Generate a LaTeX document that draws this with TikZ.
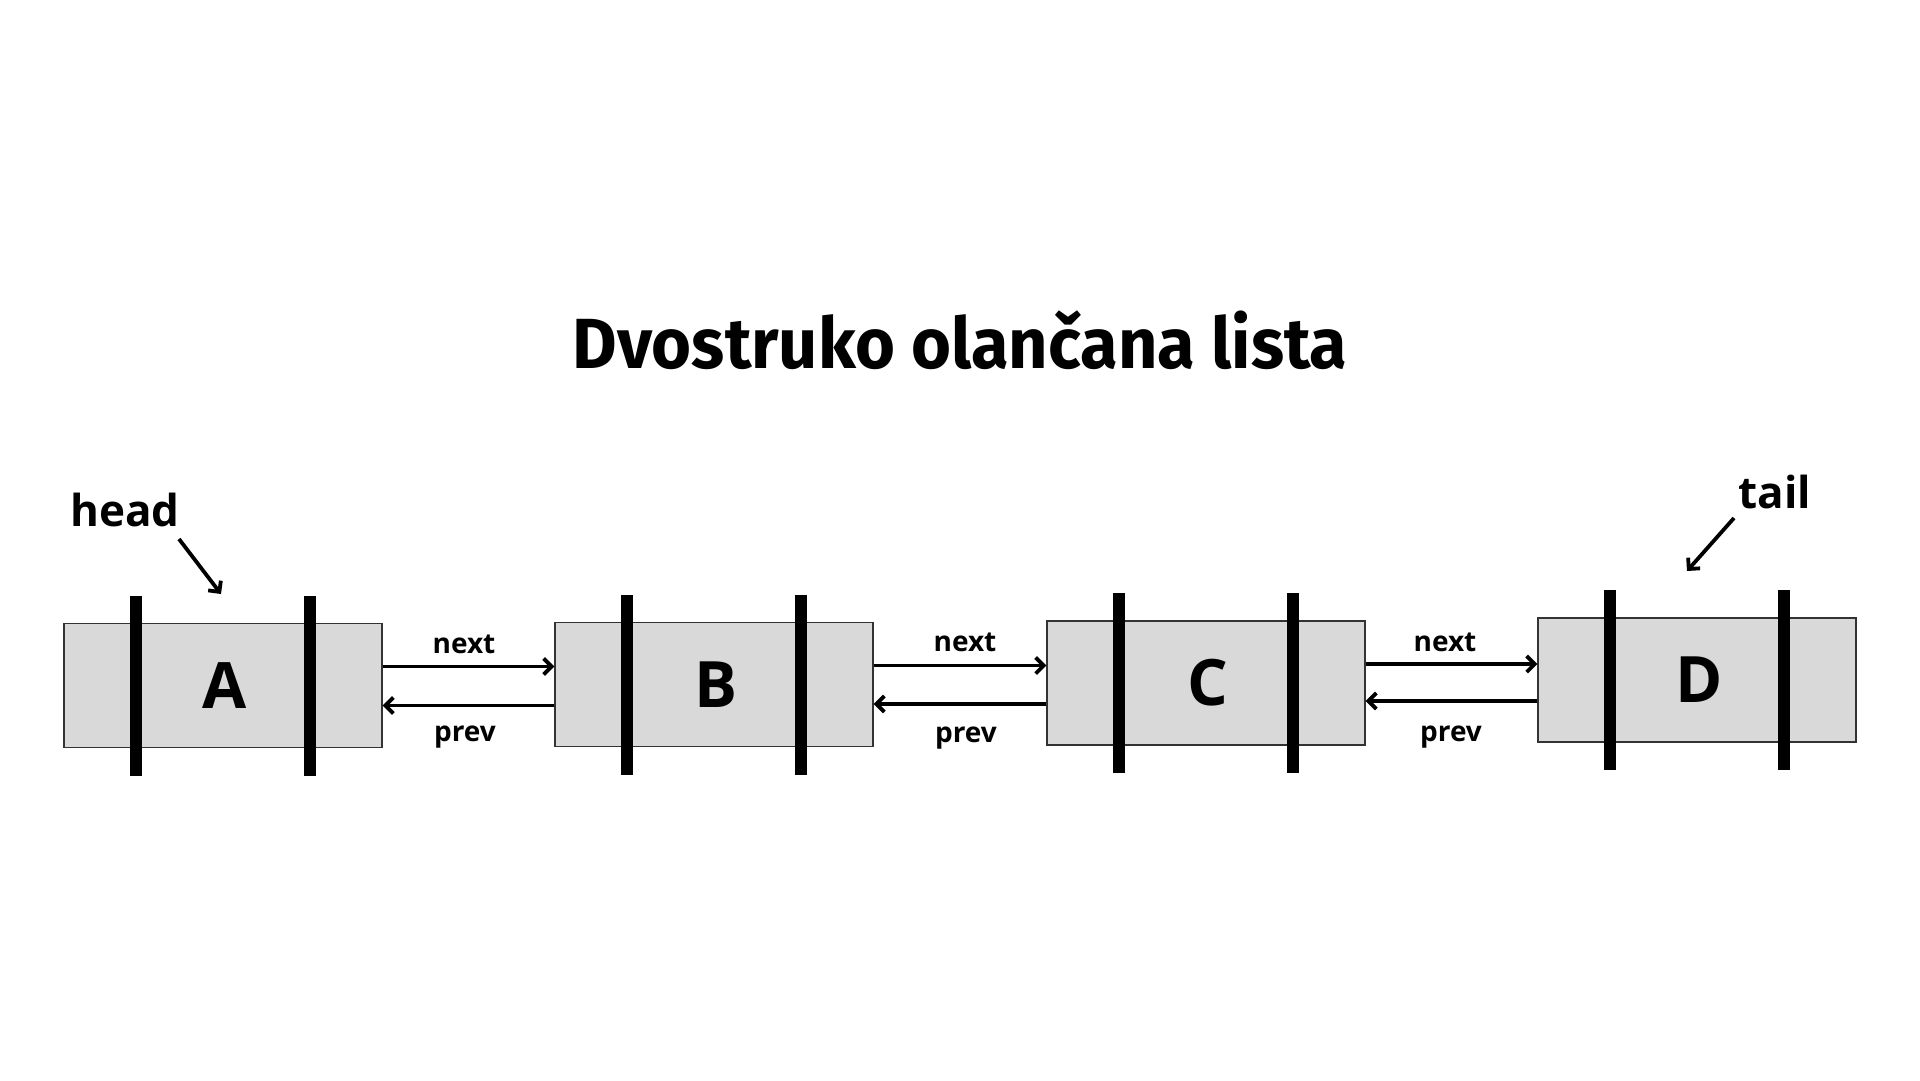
\documentclass[tikz,border=0pt]{standalone}
\usepackage{fontspec}
\setmainfont{Open Sans}
\newfontfamily\titlefont{Fira Sans}
\usetikzlibrary{arrows.meta}
\definecolor{cellgray}{HTML}{D9D9D9}
\begin{document}
\begin{tikzpicture}[x=1pt,y=-1pt,
  cell/.style={draw=black!80, line width=1.3pt, fill=cellgray, minimum width=318pt, minimum height=124pt, inner sep=0pt, font=\bfseries\fontsize{64}{64}\selectfont},
  bar/.style={fill=black, draw=none, minimum width=12pt, minimum height=180pt, inner sep=0pt},
  link/.style={line width=3.8pt, -{Straight Barb[length=8pt,width=16pt,line width=3.8pt]}},
  lbl/.style={font=\bfseries\fontsize{28}{28}\selectfont, inner sep=0pt},
  ptr/.style={font=\bfseries\fontsize{44}{44}\selectfont, inner sep=0pt}]
\useasboundingbox (0,0) rectangle (1920,1080);
\node[font=\titlefont\bfseries\fontsize{71}{71}\selectfont, inner sep=0pt] (title) at (960,340) {\scalebox{0.965}[1]{Dvostruko olančana lista}};
% cells
\node[cell] (A) at (223,685.5) {};
\node[cell] (B) at (714,684.5) {};
\node[cell] (C) at (1206,683) {};
\node[cell] (D) at (1697,680) {};
\foreach \n in {A,B,C,D}{
  \node[bar] (\n l) at ([xshift=-87pt]\n.center) {};
  \node[bar] (\n r) at ([xshift=87pt]\n.center) {};
  \node[font=\bfseries\fontsize{64}{64}\selectfont, inner sep=0pt] (\n t) at ([xshift=2pt]\n.center) {\n};
}
% links
\draw[link] ([yshift=19pt]A.east) -- ([yshift=19pt]A.east -| B.west);
\draw[link] ([yshift=-21pt]B.west) -- ([yshift=-21pt]B.west -| A.east);
\draw[link] ([yshift=19pt]B.east) -- ([yshift=19pt]B.east -| C.west);
\draw[link] ([yshift=-21pt]C.west) -- ([yshift=-21pt]C.west -| B.east);
\draw[link] ([yshift=19pt]C.east) -- ([yshift=19pt]C.east -| D.west);
\draw[link] ([yshift=-21pt]D.west) -- ([yshift=-21pt]D.west -| C.east);
% labels
\node[lbl] (n1) at (464,644) {next};
\node[lbl] (p1) at (465,737) {prev};
\node[lbl] (n2) at (965,642) {next};
\node[lbl] (p2) at (966,738) {prev};
\node[lbl] (n3) at (1445,642) {next};
\node[lbl] (p3) at (1451,737) {prev};
% head / tail
\node[ptr] (head) at (125,510) {head};
\coordinate (hs) at (179,539);
\coordinate (ht) at (221,594);
\draw[link] (hs) -- (ht);
\node[ptr] (tail) at (1775,492) {tail};
\coordinate (ts) at (1734,518);
\coordinate (tt) at (1687,571);
\draw[link] (ts) -- (tt);
\end{tikzpicture}
\end{document}
